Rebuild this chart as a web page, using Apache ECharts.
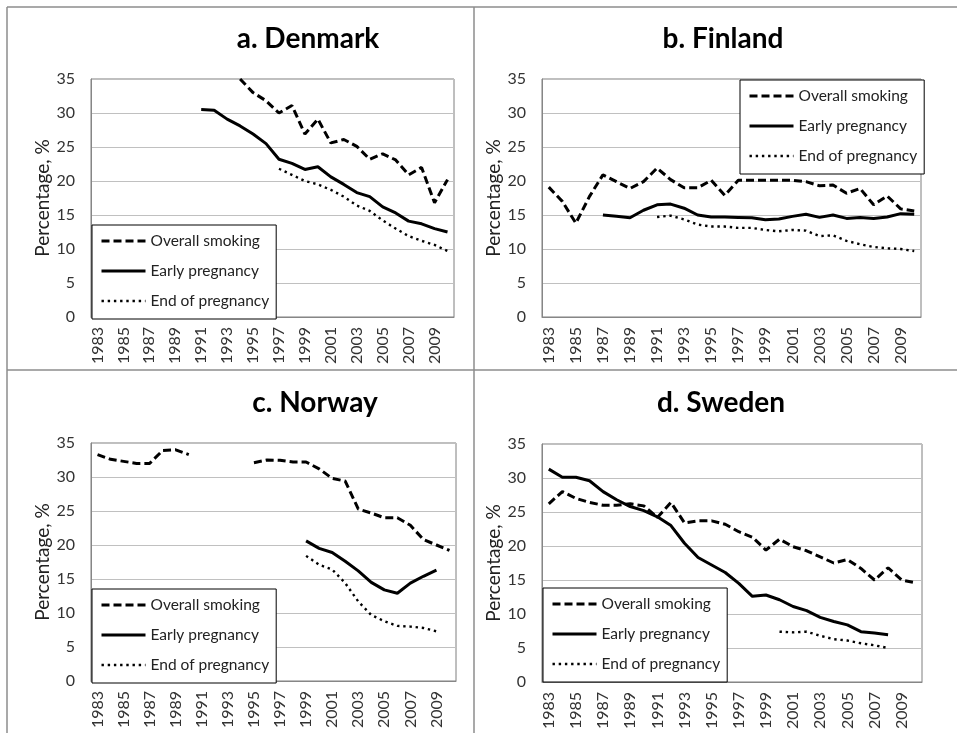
<!DOCTYPE html>
<html>
<head>
<meta charset="utf-8">
<script src="https://cdn.jsdelivr.net/npm/echarts@6/dist/echarts.min.js"></script>
<style>
html,body{margin:0;padding:0;background:#fff;}
#chart{width:957px;height:733px;}
</style>
</head>
<body>
<div id="chart"></div>
<script>
// ---------- data ----------
const years = [];
for (let y = 1983; y <= 2010; y++) years.push(String(y));

const seriesNames = ['Overall smoking', 'Early pregnancy', 'End of pregnancy'];
const panelTitles = ['a. Denmark', 'b. Finland', 'c. Norway', 'd. Sweden'];
const yTicks = [0, 5, 10, 15, 20, 25, 30, 35];

const denmarkOverall = [null,null,null,null,null,null,null,null,null,null,null,
  35.0,33.0,31.8,30.0,31.1,26.9,29.1,25.6,26.1,25.1,23.2,24.0,23.1,20.9,22.0,16.8,20.2];
const denmarkEarly = [null,null,null,null,null,null,null,null,
  30.5,30.4,29.1,28.1,26.9,25.5,23.2,22.6,21.7,22.1,20.6,19.5,18.3,17.7,16.2,15.3,14.1,13.7,13.0,12.5];
const denmarkEnd = [null,null,null,null,null,null,null,null,null,null,null,null,null,null,
  21.8,20.9,20.0,19.5,18.7,17.7,16.4,15.6,14.2,13.0,11.9,11.2,10.6,9.7];

const finlandOverall = [19.1,17.0,13.8,17.7,20.9,19.9,18.9,19.9,21.9,20.2,19.0,19.0,20.1,17.9,
  20.1,20.1,20.1,20.1,20.1,19.9,19.3,19.4,18.2,18.9,16.5,17.8,15.9,15.6];
const finlandEarly = [null,null,null,null,
  15.0,14.8,14.6,15.7,16.5,16.6,16.0,15.0,14.7,14.7,14.65,14.6,14.3,14.4,14.8,15.1,14.65,15.0,14.5,14.65,14.5,14.7,15.2,15.1];
const finlandEnd = [null,null,null,null,null,null,null,null,
  14.7,14.9,14.35,13.6,13.3,13.3,13.1,13.1,12.8,12.6,12.8,12.7,11.9,12.0,11.2,10.7,10.3,10.1,10.0,9.7];

const norwayOverall = [33.3,32.6,32.3,32.0,32.0,33.9,34.0,33.3,null,null,null,null,
  32.1,32.5,32.45,32.2,32.2,31.2,29.8,29.4,25.3,24.7,24.0,24.0,22.9,20.8,20.0,19.2];
const norwayEarly = [null,null,null,null,null,null,null,null,null,null,null,null,null,null,null,null,
  20.6,19.5,18.9,17.6,16.2,14.5,13.4,12.9,14.4,15.4,16.3,null];
const norwayEnd = [null,null,null,null,null,null,null,null,null,null,null,null,null,null,null,null,
  18.4,17.1,16.4,14.4,11.7,9.7,8.8,8.1,8.0,7.8,7.3,null];

const swedenOverall = [26.2,28.0,27.0,26.4,26.0,26.0,26.2,25.9,24.2,26.4,23.4,23.7,23.7,23.2,
  22.1,21.3,19.4,21.0,19.9,19.3,18.4,17.5,18.0,16.7,15.0,16.8,15.0,14.6];
const swedenEarly = [31.3,30.1,30.1,29.6,28.0,26.8,25.8,25.2,24.3,23.0,20.4,18.3,17.2,16.1,
  14.5,12.6,12.8,12.1,11.1,10.5,9.5,8.9,8.4,7.4,7.2,6.95,null,null];
const swedenEnd = [null,null,null,null,null,null,null,null,null,null,null,null,null,null,null,null,null,
  7.4,7.3,7.4,6.8,6.3,6.1,5.7,5.4,5.0,null,null];

const panelData = [
  [denmarkOverall, denmarkEarly, denmarkEnd],
  [finlandOverall, finlandEarly, finlandEnd],
  [norwayOverall, norwayEarly, norwayEnd],
  [swedenOverall, swedenEarly, swedenEnd]
];

// ---------- layout / style ----------
const FONT = 'Lato, "Open Sans", sans-serif';
const grids = [
  {left: 91, top: 79, width: 363, height: 238},
  {left: 542, top: 79, width: 379, height: 238},
  {left: 91, top: 443, width: 365, height: 238},
  {left: 542, top: 444, width: 380, height: 238}
];
const titlePos = [
  {x: 308, y: 25}, {x: 723, y: 25}, {x: 315, y: 389}, {x: 721, y: 389}
];
const legendPos = [
  {left: 92, top: 225}, {left: 740, top: 80}, {left: 92, top: 589}, {left: 543, top: 588}
];
const lineStyles = [
  {color: '#000', width: 3, type: [8, 4]},
  {color: '#000', width: 3, type: 'solid'},
  {color: '#000', width: 2.4, type: [2.4, 3.8]}
];

const option = {
  animation: false,
  backgroundColor: '#fff',
  textStyle: {fontFamily: FONT},
  title: panelTitles.map((t, i) => ({
    text: t,
    left: titlePos[i].x,
    top: titlePos[i].y,
    textAlign: 'center',
    padding: 0,
    textStyle: {fontFamily: FONT, fontSize: 28, fontWeight: 'bold', color: '#000'}
  })),
  grid: grids.map(g => Object.assign({show: true, borderColor: '#7f7f7f', borderWidth: 1,
    backgroundColor: 'transparent', containLabel: false}, g)),
  xAxis: grids.map((g, i) => ({
    type: 'category',
    gridIndex: i,
    data: years,
    boundaryGap: true,
    axisLine: {show: true, lineStyle: {color: '#868686', width: 1}},
    axisTick: {show: false},
    splitLine: {show: false},
    axisLabel: {interval: 1, rotate: 90, margin: 10, fontSize: 16, color: '#333', fontFamily: FONT}
  })),
  yAxis: grids.map((g, i) => ({
    type: 'value',
    gridIndex: i,
    min: 0, max: 35, interval: 5,
    name: 'Percentage, %',
    nameLocation: 'middle',
    nameRotate: 90,
    nameGap: 39,
    nameTextStyle: {fontSize: 19, color: '#222', fontFamily: FONT},
    axisLine: {show: true, lineStyle: {color: '#868686', width: 1}},
    axisTick: {show: false},
    splitLine: {show: true, lineStyle: {color: '#c0c0c0', width: 1}},
    axisLabel: {margin: 16, fontSize: 16, color: '#333', fontFamily: FONT,
      formatter: v => (yTicks.indexOf(v) >= 0 ? String(v) : '')}
  })),
  legend: legendPos.map((p, i) => ({
    show: true,
    orient: 'vertical',
    left: p.left,
    top: p.top,
    data: seriesNames.map((n, s) => ({
      name: n,
      lineStyle: {width: lineStyles[s].width, type: lineStyles[s].type, color: '#000'}
    })),
    itemWidth: 44,
    itemHeight: 14,
    itemGap: 14,
    itemTextGap: 5,
    padding: [8, 7, 10, 8],
    borderColor: '#000',
    borderWidth: 1,
    backgroundColor: '#fff',
    selectedMode: false,
    itemStyle: {opacity: 0, borderWidth: 0},
    textStyle: {fontSize: 15.5, color: '#222', fontFamily: FONT}
  })),
  series: []
};

panelData.forEach((arrs, p) => {
  arrs.forEach((arr, s) => {
    option.series.push({
      type: 'line',
      name: seriesNames[s],
      xAxisIndex: p,
      yAxisIndex: p,
      data: arr,
      symbol: 'none',
      connectNulls: false,
      lineStyle: lineStyles[s],
      itemStyle: {color: '#000'},
      z: 3
    });
  });
});

// cell borders of the table layout
option.graphic = [
  {type: 'line', shape: {x1: 7, y1: 7, x2: 957, y2: 7}, style: {stroke: '#8c8c8c', lineWidth: 1.5}},
  {type: 'line', shape: {x1: 7, y1: 7, x2: 7, y2: 733}, style: {stroke: '#8c8c8c', lineWidth: 1.5}},
  {type: 'line', shape: {x1: 474, y1: 7, x2: 474, y2: 733}, style: {stroke: '#8c8c8c', lineWidth: 1.5}},
  {type: 'line', shape: {x1: 7, y1: 370, x2: 957, y2: 370}, style: {stroke: '#8c8c8c', lineWidth: 1.5}}
];

const chart = echarts.init(document.getElementById('chart'), null, {renderer: 'canvas'});
chart.setOption(option);
</script>
</body>
</html>
